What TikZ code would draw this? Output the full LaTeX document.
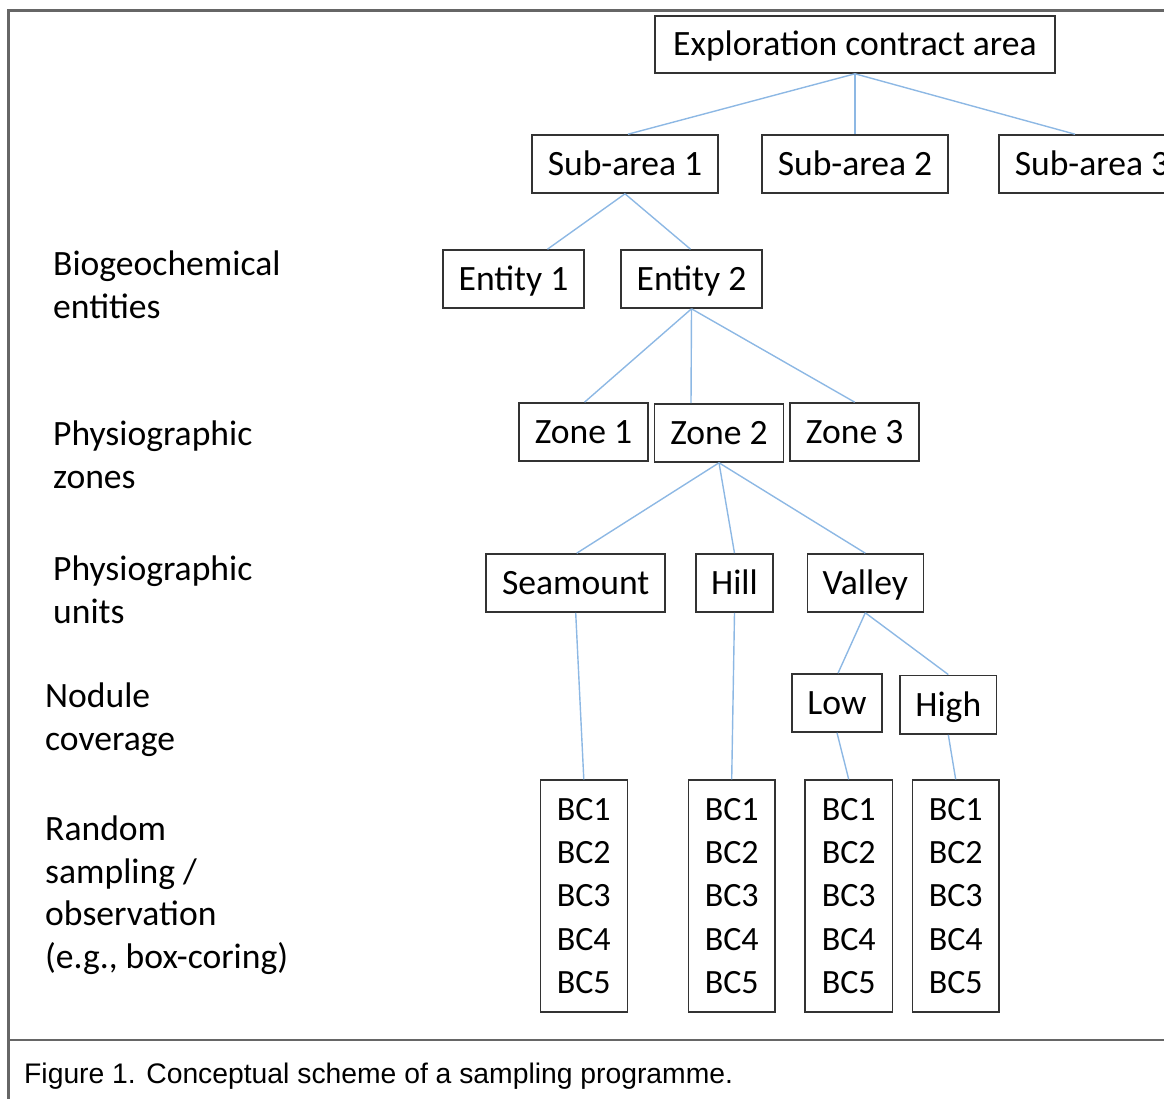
\documentclass[tikz,border=0pt]{standalone}
\usepackage{fontspec}
\setmainfont{Carlito}
\newfontfamily\capfont{Liberation Sans}
\definecolor{conn}{HTML}{8DB8E4}
\definecolor{boxline}{HTML}{333333}
\definecolor{frameline}{HTML}{666666}
\begin{document}
\begin{tikzpicture}[x=1pt,y=-1pt,
  basebox/.style={draw=boxline, line width=1.6pt, inner sep=0pt, align=center},
  box/.style={basebox, minimum height=58pt, text height=23pt, text depth=0pt,
    font=\fontsize{35.6}{43.3}\selectfont},
  bcbox/.style={basebox, minimum height=231.7pt, font=\fontsize{34}{43.3}\selectfont},
  lbl/.style={anchor=base west, inner sep=0pt, align=left,
    font=\fontsize{35.6}{42.5}\selectfont},
  link/.style={draw=conn, line width=1.4pt}]
\useasboundingbox (0,0) rectangle (1164,1099);
\clip (0,0) rectangle (1164,1099);
% frame
\draw[frameline, line width=2.2pt] (8.5,1110) -- (8.5,10.5) -- (1175,10.5);
\draw[frameline, line width=2.2pt] (8.5,1040) -- (1175,1040);
\node[anchor=base west, inner sep=0pt, font=\capfont\fontsize{28.3}{34}\selectfont] (cap) at (24,1083) {Figure 1. Conceptual scheme of a sampling programme.};
% boxes
\node[box, minimum width=400pt, minimum height=57pt] (eca) at (855,44.5) {Exploration contract area};
\node[box, minimum width=186pt] (sa1) at (625,164) {Sub-area 1};
\node[box, minimum width=186pt] (sa2) at (855,164) {Sub-area 2};
\node[box, minimum width=186pt] (sa3) at (1092,164) {Sub-area 3};
\node[box, minimum width=141pt] (e1) at (513.5,279) {Entity 1};
\node[box, minimum width=141pt] (e2) at (691.5,279) {Entity 2};
\node[box, minimum width=129pt] (z1) at (583.5,432) {Zone 1};
\node[box, minimum width=129pt] (z2) at (719,433) {Zone 2};
\node[box, minimum width=129pt] (z3) at (854.7,432) {Zone 3};
\node[box, minimum width=179pt] (sm) at (575.7,583) {Seamount};
\node[box, minimum width=77pt] (hill) at (734.5,583) {Hill};
\node[box, minimum width=116pt] (valley) at (865.3,583) {Valley};
\node[box, minimum width=89.5pt] (low) at (837,703) {Low};
\node[box, minimum width=96.7pt, minimum height=58.7pt] (high) at (948.3,704.7) {High};
\node[bcbox, minimum width=87pt] (bca) at (583.8,896) {BC1\\BC2\\BC3\\BC4\\BC5};
\node[bcbox, minimum width=86.7pt] (bcb) at (731.7,896) {BC1\\BC2\\BC3\\BC4\\BC5};
\node[bcbox, minimum width=87.3pt] (bcc) at (848.7,896) {BC1\\BC2\\BC3\\BC4\\BC5};
\node[bcbox, minimum width=86.7pt] (bcd) at (955.7,896) {BC1\\BC2\\BC3\\BC4\\BC5};
% connectors
\path[link] (eca.south) -- ([xshift=3pt]sa1.north);
\path[link] (eca.south) -- (sa2.north);
\path[link] (eca.south) -- ([xshift=-17pt]sa3.north);
\path[link] (sa1.south) -- ([xshift=34pt]e1.north);
\path[link] (sa1.south) -- ([xshift=-1pt]e2.north);
\path[link] (e2.south) -- ([xshift=1pt]z1.north);
\path[link] (e2.south) -- ([xshift=-28pt]z2.north);
\path[link] (e2.south) -- (z3.north);
\path[link] (z2.south) -- ([xshift=1pt]sm.north);
\path[link] (z2.south) -- (hill.north);
\path[link] (z2.south) -- (valley.north);
\path[link] (sm.south) -- (bca.north);
\path[link] (hill.south) -- (bcb.north);
\path[link] (valley.south) -- ([xshift=1pt]low.north);
\path[link] (valley.south) -- (high.north);
\path[link] (low.south) -- (bcc.north);
\path[link] (high.south) -- (bcd.north);
% level labels (base anchor = baseline of last line)
\node[lbl] (l1) at (53,318) {Biogeochemical\\entities};
\node[lbl] (l2) at (53,488) {Physiographic\\zones};
\node[lbl] (l3) at (53,623) {Physiographic\\units};
\node[lbl] (l4) at (45,750) {Nodule\\coverage};
\node[lbl] (l5) at (45,968) {Random\\sampling /\\observation\\(e.g., box-coring)};
\end{tikzpicture}
\end{document}
